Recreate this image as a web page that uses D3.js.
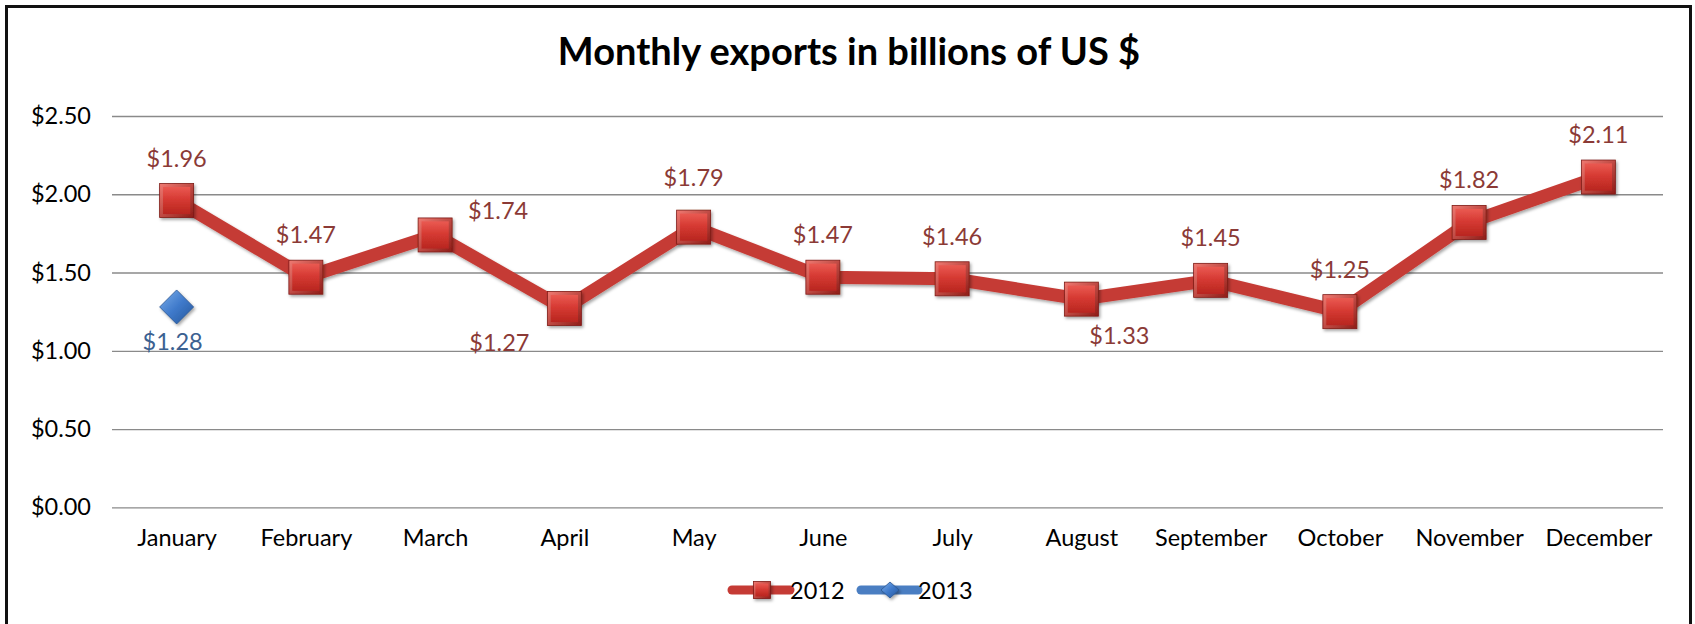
<!DOCTYPE html>
<html>
<head>
<meta charset="utf-8">
<script src="https://cdn.jsdelivr.net/npm/d3@7"></script>
<style>
  html, body { margin: 0; padding: 0; background: #fff; }
  svg { display: block; }
  text { font-family: Lato, "Open Sans", "DejaVu Sans", sans-serif; }
</style>
</head>
<body>
<svg id="chart" width="1695" height="624"></svg>
<script>
// ---- data ----
const months = ["January","February","March","April","May","June","July","August","September","October","November","December"];
const values2012 = [1.96, 1.47, 1.74, 1.27, 1.79, 1.47, 1.46, 1.33, 1.45, 1.25, 1.82, 2.11];
const values2013 = [1.28];
const yTicks = [0, 0.5, 1.0, 1.5, 2.0, 2.5];
const labelPlacement2012 = ["top","top","topRight","bottomLeft","topHigh","top","top","bottomRight","top","top","top","top"];
const labelPlacement2013 = ["bottom"];
const seriesNames = ["2012", "2013"];
const title = "Monthly exports in billions of US $";

// ---- layout ----
const W = 1695, H = 624;
const plot = { left: 112, right: 1663, top: 116, bottom: 507.3 };
const FS = 23.5;
const svg = d3.select("#chart");

const defs = svg.append("defs");
const redGrad = defs.append("linearGradient").attr("id","redGrad").attr("x1",0).attr("y1",0).attr("x2",0).attr("y2",1);
redGrad.append("stop").attr("offset","0%").attr("stop-color","#ea5a52");
redGrad.append("stop").attr("offset","45%").attr("stop-color","#d63a33");
redGrad.append("stop").attr("offset","100%").attr("stop-color","#b8261f");
const redEdge = defs.append("linearGradient").attr("id","redEdge").attr("x1",0).attr("y1",0).attr("x2",1).attr("y2",1);
redEdge.append("stop").attr("offset","0%").attr("stop-color","#f07a72");
redEdge.append("stop").attr("offset","100%").attr("stop-color","#8e1c17");
const blueGrad = defs.append("linearGradient").attr("id","blueGrad").attr("x1",0).attr("y1",0).attr("x2",1).attr("y2",1);
blueGrad.append("stop").attr("offset","0%").attr("stop-color","#7fb0ea");
blueGrad.append("stop").attr("offset","50%").attr("stop-color","#3f7acb");
blueGrad.append("stop").attr("offset","100%").attr("stop-color","#25569a");
const shadow = defs.append("filter").attr("id","shadow").attr("x","-30%").attr("y","-30%").attr("width","160%").attr("height","160%");
shadow.append("feDropShadow").attr("dx",1.5).attr("dy",2).attr("stdDeviation",1.5).attr("flood-color","#000").attr("flood-opacity",0.35);

// frame
svg.append("rect").attr("x",6.5).attr("y",6.5).attr("width",1684).attr("height",H+20)
  .attr("fill","#fff").attr("stroke","#111").attr("stroke-width",3);

// scales
const x = d3.scalePoint().domain(months).range([plot.left, plot.right]).padding(0.5);
const y = d3.scaleLinear().domain([0, 2.5]).range([plot.bottom, plot.top]);

// title
svg.append("text").attr("x", 849).attr("y", 65).attr("text-anchor","middle")
  .attr("font-size", 38).attr("font-weight","bold").attr("fill","#000").text(title);

// gridlines + y axis
const yAxis = d3.axisLeft(y).tickValues(yTicks).tickSize(-(plot.right - plot.left)).tickPadding(21)
  .tickFormat(d => "$" + d3.format(".2f")(d));
const gy = svg.append("g").attr("transform", `translate(${plot.left},0)`).call(yAxis);
gy.select(".domain").remove();
gy.selectAll(".tick line").attr("stroke","#8a8a8a").attr("stroke-width",1.3);
gy.selectAll(".tick text").attr("font-size",FS).attr("fill","#000").style("font-family","Lato, 'Open Sans', sans-serif");

// x axis
const xAxis = d3.axisBottom(x).tickSize(0).tickPadding(22);
const gx = svg.append("g").attr("transform", `translate(0,${plot.bottom})`).call(xAxis);
gx.select(".domain").remove();
gx.selectAll(".tick text").attr("font-size",FS).attr("fill","#000").style("font-family","Lato, 'Open Sans', sans-serif");

// 2012 line
const line = d3.line().x((d,i) => x(months[i])).y(d => y(d));
svg.append("path").datum(values2012).attr("d", line).attr("fill","none")
  .attr("stroke","#c53b35").attr("stroke-width",13).attr("stroke-linejoin","round")
  .attr("filter","url(#shadow)");

// square markers
const S = 34;
function squareMarker(g, cx, cy, s) {
  const m = g.append("g").attr("transform", `translate(${cx},${cy})`).attr("filter","url(#shadow)");
  m.append("rect").attr("x",-s/2).attr("y",-s/2).attr("width",s).attr("height",s)
    .attr("fill","url(#redEdge)").attr("stroke","#7e1a15").attr("stroke-width",0.8);
  const b = Math.max(2, s*0.1);
  m.append("rect").attr("x",-s/2+b).attr("y",-s/2+b).attr("width",s-2*b).attr("height",s-2*b)
    .attr("fill","url(#redGrad)");
}
const mk = svg.append("g");
values2012.forEach((v,i) => squareMarker(mk, x(months[i]), y(v), S));

// diamond markers
function diamondMarker(g, cx, cy, w, h) {
  g.append("path").attr("d", `M${cx},${cy-h/2}L${cx+w/2},${cy}L${cx},${cy+h/2}L${cx-w/2},${cy}Z`)
    .attr("fill","url(#blueGrad)").attr("stroke","#2a5590").attr("stroke-width",0.8)
    .attr("filter","url(#shadow)");
}
values2013.forEach((v,i) => diamondMarker(svg, x(months[i]), y(v), 34, 34));

// data labels
const offsets = {
  top: [0,-43], topHigh: [0,-50], topRight: [63,-25], bottomLeft: [-65,33], bottomRight: [38,36], bottom: [-4,34]
};
const fmt = v => "$" + d3.format(".2f")(v);
values2012.forEach((v,i) => {
  const o = offsets[labelPlacement2012[i]];
  svg.append("text").attr("x", x(months[i]) + o[0]).attr("y", y(v) + o[1])
    .attr("text-anchor","middle").attr("dominant-baseline","central")
    .attr("font-size",FS).attr("fill","#8b3a36").text(fmt(v));
});
values2013.forEach((v,i) => {
  const o = offsets[labelPlacement2013[i]];
  svg.append("text").attr("x", x(months[i]) + o[0]).attr("y", y(v) + o[1])
    .attr("text-anchor","middle").attr("dominant-baseline","central")
    .attr("font-size",FS).attr("fill","#3b6191").text(fmt(v));
});

// legend
const lg = svg.append("g");
const ly = 590;
lg.append("line").attr("x1",732).attr("x2",790).attr("y1",ly).attr("y2",ly)
  .attr("stroke","#c53b35").attr("stroke-width",9).attr("stroke-linecap","round");
squareMarker(lg, 762, ly, 17);
lg.append("text").attr("x",790).attr("y",ly).attr("dominant-baseline","central")
  .attr("font-size",FS).attr("fill","#000").text(seriesNames[0]);
lg.append("line").attr("x1",861).attr("x2",918).attr("y1",ly).attr("y2",ly)
  .attr("stroke","#4a7ec2").attr("stroke-width",9).attr("stroke-linecap","round");
diamondMarker(lg, 890, ly, 18, 16);
lg.append("text").attr("x",918).attr("y",ly).attr("dominant-baseline","central")
  .attr("font-size",FS).attr("fill","#000").text(seriesNames[1]);
</script>
</body>
</html>
